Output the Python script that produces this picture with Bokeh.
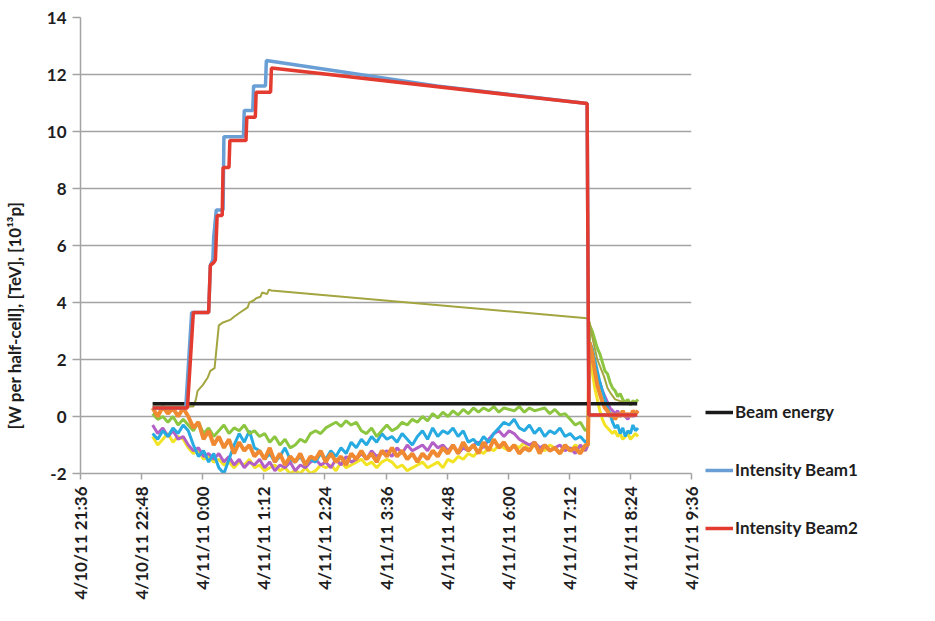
import math
from bokeh.plotting import figure
from bokeh.models import Range1d, FixedTicker, Legend, LegendItem, Label
from bokeh.embed import file_html
from bokeh.resources import INLINE

FONT = "Lato"

# ---------------- data (time = minutes after 4/10/11 21:36) ----------------
tick_minutes = [0, 72, 144, 216, 288, 360, 432, 504, 576, 648, 720]
tick_labels = ["4/10/11 21:36", "4/10/11 22:48", "4/11/11 0:00", "4/11/11 1:12",
               "4/11/11 2:24", "4/11/11 3:36", "4/11/11 4:48", "4/11/11 6:00",
               "4/11/11 7:12", "4/11/11 8:24", "4/11/11 9:36"]
y_ticks = [-2, 0, 2, 4, 6, 8, 10, 12, 14]
y_tick_labels = ["-2", "0", "2", "4", "6", "8", "10", "12", "14"]

energy_t = [85, 656]
energy_v = [0.45, 0.45]

beam2_t = [85, 126, 133, 151, 153, 157, 159, 161, 167, 168, 175, 176, 195, 196,
           206, 207, 224, 225, 597, 599, 656]
beam2_v = [0.3, 0.3, 3.65, 3.65, 5.3, 5.4, 5.5, 7.05, 7.05, 8.74, 8.74, 9.68, 9.68,
           10.5, 10.5, 11.38, 11.38, 12.23, 10.98, 0.05, 0.05]

beam1_t = [85, 124, 131, 151, 153, 156, 157, 160, 168, 169, 192, 193, 203, 204,
           218, 219, 420, 597, 599, 656]
beam1_v = [0.3, 0.3, 3.65, 3.65, 5.3, 5.5, 6.3, 7.25, 7.25, 9.82, 9.82, 10.74,
           10.74, 11.6, 11.6, 12.49, 11.6, 10.98, 0.05, 0.05]

heat_t = [85, 133, 136, 138, 144, 150, 153, 158, 160, 163, 168, 177, 181, 188, 197,
          199, 204, 207, 212, 214, 220, 222, 225, 597, 600, 603, 606, 609, 613, 617,
          621, 625, 630, 640, 656]
heat_v = [0.35, 0.35, 0.6, 0.9, 1.1, 1.37, 1.6, 1.7, 2.3, 3.2, 3.3, 3.4, 3.5, 3.65,
          3.83, 4.0, 4.07, 4.15, 4.2, 4.35, 4.3, 4.45, 4.42, 3.45, 3.3, 2.8, 2.4, 2.0,
          1.7, 1.4, 1.0, 0.8, 0.6, 0.5, 0.5]

cell_t = [85, 91, 97, 103, 109, 115, 121, 127, 133, 139, 145, 151, 157, 163, 169, 175,
          181, 187, 193, 199, 205, 211, 217, 223, 229, 235, 241, 247, 253, 259, 265,
          271, 277, 283, 289, 295, 301, 307, 313, 319, 325, 331, 337, 343, 349, 355,
          361, 367, 373, 379, 385, 391, 397, 403, 409, 415, 421, 427, 433, 439, 445,
          451, 457, 463, 469, 475, 481, 487, 493, 499, 505, 511, 517, 523, 529, 535,
          541, 547, 553, 559, 565, 571, 577, 583, 589, 595,
          598, 600, 603, 606, 609, 612, 615, 618, 621, 624, 627, 630, 633, 636, 639,
          642, 645, 648, 651, 654, 657]

cell_green = [0.1, -0.1, 0.0, -0.2, 0.0, -0.3, -0.1,
              -0.3, -0.5, -0.2, -0.6, -0.4, -0.7,
              -0.5, -0.3, -0.6, -0.4, -0.5, -0.3, -0.6, -0.5,
              -0.7, -0.6, -0.9, -0.7, -1.0, -0.8, -1.1,
              -1.0, -0.8, -0.9, -0.6, -0.5, -0.6, -0.4,
              -0.3, -0.2, -0.35, -0.15, -0.3, -0.2,
              -0.5, -0.6, -0.4, -0.7, -0.5, -0.3,
              -0.5, -0.4, -0.2, -0.3, -0.1, -0.2,
              0.0, -0.15, 0.1, -0.05, 0.15, 0.0,
              0.2, 0.05, 0.25, 0.1, 0.3, 0.15,
              0.3, 0.2, 0.35, 0.15, 0.3, 0.25,
              0.2, 0.35, 0.15, 0.3, 0.2, 0.25,
              0.3, 0.1, 0.25, 0.05, 0.1,
              -0.1, -0.3, -0.2, -0.5,
              -0.4, 3.2, 3.0, 2.7, 2.4, 2.2, 1.9, 1.6, 1.5, 1.2, 1.0, 0.9, 0.7, 0.8,
              0.6, 0.5, 0.6, 0.4, 0.55, 0.5, 0.6]

cell_cyan = [-0.6, -0.8, -0.5, -0.7, -0.4, -0.6, -0.3,
             -0.5, -1.0, -1.4, -1.2, -1.6, -1.3,
             -1.8, -2.0, -1.5, -1.0, -0.6, -0.9, -0.5, -1.1,
             -1.2, -1.5, -1.3, -1.6, -1.4, -1.1, -1.5,
             -1.6, -1.4, -1.7, -1.5, -1.6, -1.3, -1.5,
             -1.2, -1.4, -1.1, -1.3, -0.9, -1.1,
             -0.8, -1.0, -0.7, -0.9, -0.6, -0.8,
             -0.7, -0.9, -0.6, -0.8, -1.0, -0.7,
             -0.5, -0.8, -0.4, -0.7, -0.5, -0.6,
             -0.4, -0.7, -0.5, -0.9, -0.8, -1.0,
             -0.7, -0.9, -0.6, -0.4, -0.2, -0.3,
             -0.1, -0.4, -0.5, -0.3, -0.6, -0.4,
             -0.7, -0.5, -0.6, -0.4, -0.7,
             -0.6, -0.8, -0.7, -0.9,
             -0.8, 2.6, 2.4, 2.0, 1.6, 1.2, 0.9, 0.6, 0.3, 0.1, -0.2, -0.4, -0.3, -0.6,
             -0.4, -0.7, -0.5, -0.6, -0.3, -0.5, -0.4]

cell_magenta = [-0.3, -0.6, -0.4, -0.7, -0.5, -0.8, -0.7,
                -1.0, -1.2, -1.1, -1.4, -1.3, -1.5,
                -1.3, -1.6, -1.4, -1.7, -1.5, -1.8, -1.6, -1.7,
                -1.5, -1.8, -1.6, -1.9, -1.7, -1.8, -1.6,
                -1.9, -1.7, -1.8, -1.6, -1.5, -1.7, -1.6,
                -1.8, -1.5, -1.7, -1.4, -1.6, -1.5,
                -1.3, -1.5, -1.2, -1.4, -1.3, -1.2,
                -1.4, -1.1, -1.3, -1.0, -1.2, -1.1,
                -1.0, -1.2, -0.9, -1.1, -1.0, -1.2,
                -1.0, -1.3, -1.1, -1.2, -1.0, -0.9,
                -1.1, -0.8, -0.6, -0.5, -0.7, -0.5,
                -0.6, -0.8, -0.9, -1.0, -0.9, -1.1,
                -1.0, -1.2, -1.1, -1.0, -1.2,
                -1.1, -1.3, -1.0, -1.2,
                -1.0, 2.2, 2.0, 1.7, 1.4, 1.2, 0.9, 0.7, 0.5, 0.3, 0.2, 0.1, 0.2, 0.0,
                0.1, 0.0, -0.1, 0.1, 0.0, 0.1, 0.2]

cell_orange = [0.3, 0.0, 0.35, 0.1, 0.3, 0.0, 0.3,
               0.0, -0.4, -0.2, -0.8, -0.5, -1.0,
               -0.7, -1.1, -0.8, -1.3, -0.9, -1.2, -1.0, -1.4,
               -1.2, -1.5, -1.1, -1.6, -1.3, -1.7, -1.4,
               -1.6, -1.3, -1.7, -1.4, -1.5, -1.2, -1.6,
               -1.3, -1.6, -1.4, -1.7, -1.3, -1.5,
               -1.2, -1.5, -1.3, -1.6, -1.2, -1.4,
               -1.1, -1.4, -1.2, -1.5, -1.3, -1.6,
               -1.3, -1.5, -1.2, -1.4, -1.1, -1.3,
               -1.0, -1.3, -0.9, -1.2, -1.0, -1.3,
               -0.9, -1.2, -0.8, -1.1, -0.9, -1.2,
               -1.0, -1.3, -1.1, -1.2, -0.9, -1.3,
               -1.0, -1.2, -1.1, -1.3, -1.0,
               -1.2, -1.1, -1.3, -1.0,
               -1.0, 2.6, 2.2, 1.6, 1.1, 0.8, 0.5, 0.3, 0.2, 0.0, 0.1, -0.1, 0.1, 0.0,
               0.2, 0.0, 0.1, 0.0, 0.2, 0.1, 0.2]

cell_yellow = [-0.7, -1.0, -0.8, -0.6, -0.9, -0.7, -0.8,
               -1.1, -1.3, -1.2, -1.5, -1.4, -1.6,
               -1.5, -1.7, -1.6, -1.8, -1.6, -1.7, -1.5, -1.8,
               -1.7, -1.9, -1.8, -1.7, -1.9, -1.8, -2.0,
               -1.9, -2.0, -1.8, -2.0, -1.9, -1.7, -1.8,
               -1.7, -1.9, -1.6, -1.8, -1.7, -1.6,
               -1.5, -1.7, -1.6, -1.8, -1.6, -1.5,
               -1.6, -1.8, -1.7, -1.9, -1.8, -1.7,
               -1.6, -1.8, -1.7, -1.6, -1.8, -1.5,
               -1.6, -1.4, -1.5, -1.3, -1.4, -1.2,
               -1.3, -1.1, -1.2, -1.0, -1.1, -1.2,
               -1.0, -1.1, -0.9, -1.2, -1.0, -1.1,
               -1.2, -1.0, -1.1, -1.3, -1.1,
               -1.2, -1.0, -1.1, -1.2,
               -1.0, 2.0, 1.6, 1.0, 0.6, 0.2, -0.1, -0.3, -0.4, -0.5, -0.6, -0.5, -0.7,
               -0.6, -0.8, -0.7, -0.6, -0.8, -0.7, -0.6, -0.7]

legend_labels = ["Beam energy", "Intensity Beam1", "Intensity Beam2"]
y_title = "[W per half-cell], [TeV], [10\u00b9\u00b3p]"

# ---------------- figure ----------------
p = figure(frame_width=611, frame_height=456,
           x_range=Range1d(0, 720), y_range=Range1d(-2, 14),
           output_backend="svg", toolbar_location=None,
           min_border_left=80, min_border_right=0, min_border_top=17,
           min_border_bottom=140)
p.outline_line_color = None
p.background_fill_color = "white"
p.border_fill_color = "white"

p.xgrid.visible = False
p.ygrid.grid_line_color = "#a3a3a3"
p.ygrid.grid_line_width = 1.5
p.ygrid.ticker = FixedTicker(ticks=y_ticks)

p.yaxis.ticker = FixedTicker(ticks=y_ticks)
p.yaxis.major_label_overrides = dict(zip(y_ticks, y_tick_labels))
p.xaxis.ticker = FixedTicker(ticks=tick_minutes)
p.xaxis.major_label_overrides = dict(zip(tick_minutes, tick_labels))
p.xaxis.major_label_orientation = math.pi / 2

for ax in (p.xaxis[0], p.yaxis[0]):
    ax.axis_line_color = "#a3a3a3"
    ax.axis_line_width = 1.5
    ax.major_tick_line_color = "#a3a3a3"
    ax.major_tick_line_width = 1.5
    ax.minor_tick_line_color = None
    ax.major_tick_in = 0
    ax.major_label_text_font = FONT
    ax.major_label_text_font_style = "bold"
    ax.major_label_text_font_size = "17px"
    ax.major_label_text_color = "#1e1e1e"
p.yaxis.major_tick_out = 8
p.xaxis.major_tick_out = 6
p.yaxis.major_label_standoff = 6
p.xaxis.major_label_standoff = 7

# cell heat loads (noisy)
p.line(cell_t, cell_yellow, line_color="#f2e425", line_width=3)
p.line(cell_t, cell_magenta, line_color="#b25fc6", line_width=3)
p.line(cell_t, cell_cyan, line_color="#27aae1", line_width=3)
p.line(cell_t, cell_green, line_color="#8cc640", line_width=3)
p.line(cell_t, cell_orange, line_color="#f08a32", line_width=4)
p.line(heat_t, heat_v, line_color="#a3a640", line_width=2)

r_energy = p.line(energy_t, energy_v, line_color="#1a1a1a", line_width=3.5)
r_b1 = p.line(beam1_t, beam1_v, line_color="#6a9fd6", line_width=3.5)
r_b2 = p.line(beam2_t, beam2_v, line_color="#e33b30", line_width=3.5)

legend = Legend(items=[LegendItem(label=legend_labels[0], renderers=[r_energy]),
                       LegendItem(label=legend_labels[1], renderers=[r_b1]),
                       LegendItem(label=legend_labels[2], renderers=[r_b2])],
                location=(14, -65), orientation="vertical",
                glyph_width=28, glyph_height=20, label_height=20, label_standoff=2,
                spacing=37, padding=0, margin=0,
                border_line_color=None, background_fill_alpha=0,
                label_text_font=FONT, label_text_font_style="bold",
                label_text_font_size="17px", label_text_color="#1e1e1e")
p.add_layout(legend, "right")

ylab = Label(x=-8, y=158, x_units="screen", y_units="screen", text=y_title,
             angle=math.pi / 2, text_align="center", text_baseline="middle",
             text_font=FONT, text_font_style="bold", text_font_size="17px",
             text_color="#1e1e1e")
p.add_layout(ylab, "left")

open("out.html", "w").write(file_html(p, INLINE))
